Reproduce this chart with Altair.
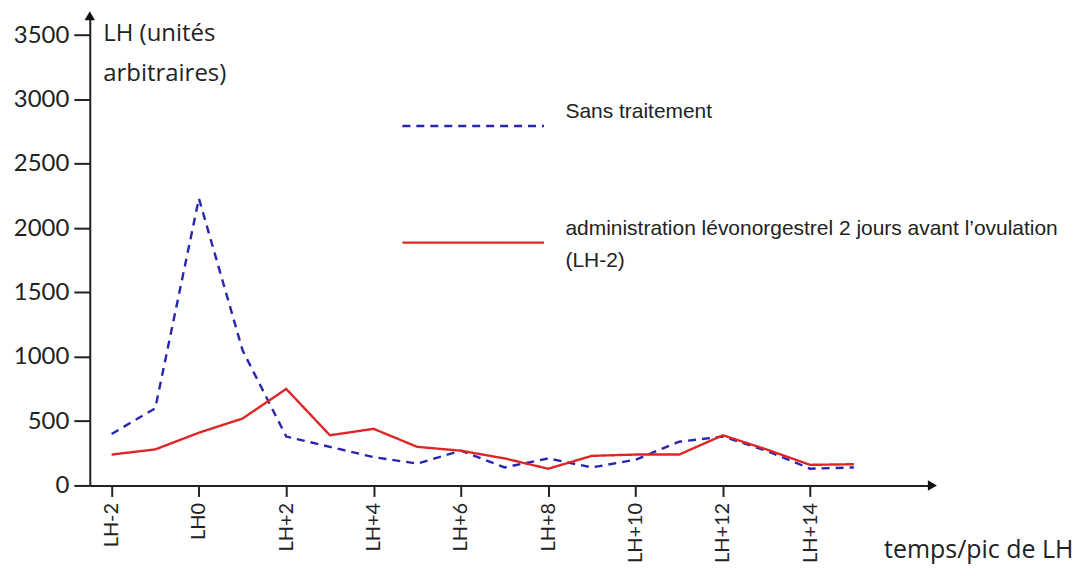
import altair as alt
import pandas as pd

# ---- data ----
days = list(range(-2, 16))
sans_traitement = [400, 600, 2230, 1050, 380, 300, 220, 170, 270, 140, 210, 140, 200, 340, 380, 270, 130, 140]
levonorgestrel = [240, 280, 410, 520, 750, 390, 440, 300, 270, 210, 130, 230, 240, 240, 390, 280, 160, 165]

series_names = [
    "Sans traitement",
    "administration lévonorgestrel  2 jours avant l’ovulation (LH-2)",
]
series_label_lines = [
    ["Sans traitement"],
    ["administration lévonorgestrel  2 jours avant l’ovulation", "(LH-2)"],
]
series_colors = ["#2626b0", "#de2626"]
series_dash = [[8, 6], [1, 0]]

tick_days = [-2, 0, 2, 4, 6, 8, 10, 12, 14]
tick_labels = ["LH-2", "LH0", "LH+2", "LH+4", "LH+6", "LH+8", "LH+10", "LH+12", "LH+14"]
y_ticks = [0, 500, 1000, 1500, 2000, 2500, 3000, 3500]

x_domain = [-2.5, 16.8]
y_domain = [0, 3650]

rows = []
for d, a, b in zip(days, sans_traitement, levonorgestrel):
    rows.append({"jour": d, "LH": a, "serie": series_names[0]})
    rows.append({"jour": d, "LH": b, "serie": series_names[1]})
df = pd.DataFrame(rows)

label_map = "{" + ",".join(f"'{d}':'{l}'" for d, l in zip(tick_days, tick_labels)) + "}"
label_expr = f"{label_map}[''+datum.value]"

legend_label_expr = (
    "datum.label == '" + series_names[1] + "' ? ["
    + ",".join("'" + s + "'" for s in series_label_lines[1])
    + "] : datum.label"
)

FONT = "Lato"
TITLE_FONT = "Open Sans"
LEG_FONT = "Liberation Sans"
LABEL_DY = -14  # vertical shift of guide labels (compensated on the axes)

legend_opts = dict(
    title=None,
    orient="none",
    legendX=312,
    legendY=38,
    symbolType="stroke",
    symbolSize=142 * 142,
    symbolStrokeWidth=2.5,
    labelFont=LEG_FONT,
    labelFontSize=21,
    labelColor="#222222",
    labelOffset=20,
    labelLimit=800,
    labelExpr=legend_label_expr,
    rowPadding=39,
)

x_enc = alt.X(
    "jour:Q",
    scale=alt.Scale(domain=x_domain, nice=False, zero=False),
    axis=alt.Axis(
        values=tick_days,
        labelExpr=label_expr,
        labelAngle=-90,
        labelFontSize=20,
        labelFont=FONT,
        labelColor="#222222",
        labelPadding=6,
        labelOffset=-LABEL_DY,
        tickSize=11,
        tickWidth=2,
        tickColor="#222222",
        domainColor="#222222",
        domainWidth=2,
        grid=False,
        title="temps/pic de LH",
        titleFont=TITLE_FONT,
        titleFontSize=25,
        titleFontWeight="normal",
        titleColor="#222222",
        titleAngle=0,
        titleAlign="left",
        titleBaseline="middle",
        titleAnchor="start",
        titleX=796,
        titleY=64,
    ),
)

y_enc = alt.Y(
    "LH:Q",
    scale=alt.Scale(domain=y_domain, nice=False),
    axis=alt.Axis(
        values=y_ticks,
        format="d",
        labelFontSize=24,
        labelFont=FONT,
        labelColor="#222222",
        labelPadding=5,
        labelOffset=-LABEL_DY,
        tickSize=16,
        tickWidth=2,
        tickColor="#222222",
        domainColor="#222222",
        domainWidth=2,
        grid=False,
        title=["LH (unités", "arbitraires)"],
        titleFont=TITLE_FONT,
        titleFontSize=24,
        titleFontWeight="normal",
        titleColor="#222222",
        titleAngle=0,
        titleAlign="left",
        titleBaseline="top",
        titleLineHeight=40,
        titleX=13,
        titleY=6,
    ),
)

lines = alt.Chart(df).mark_line(strokeWidth=2.4).encode(
    x=x_enc,
    y=y_enc,
    color=alt.Color(
        "serie:N",
        scale=alt.Scale(domain=series_names, range=series_colors),
        legend=alt.Legend(**legend_opts),
    ),
    strokeDash=alt.StrokeDash(
        "serie:N",
        scale=alt.Scale(domain=series_names, range=series_dash),
        legend=alt.Legend(**legend_opts),
    ),
    order=alt.Order("jour:Q"),
)

# axis arrow heads at the ends of the axes
arrows_df = pd.DataFrame({
    "jour": [x_domain[0], x_domain[1]],
    "LH": [y_domain[1], y_domain[0]],
    "shape": ["triangle-up", "triangle-right"],
})
arrows = alt.Chart(arrows_df).mark_point(filled=True, color="#111111", size=110, opacity=1).encode(
    x=alt.X("jour:Q", scale=alt.Scale(domain=x_domain, nice=False, zero=False)),
    y=alt.Y("LH:Q", scale=alt.Scale(domain=y_domain, nice=False)),
    shape=alt.Shape("shape:N", scale=None),
)

chart = (
    alt.layer(lines, arrows)
    .properties(
        width=845,
        height=471,
        autosize=alt.AutoSizeParams(type="none"),
        padding={"left": 82, "top": 7, "right": 150, "bottom": 82},
        background="white",
    )
    .configure(style={"guide-label": {"lineHeight": 32, "dy": LABEL_DY}})
    .configure_view(stroke=None)
)

chart.save("out.html", embed_options={"renderer": "svg", "actions": False})
